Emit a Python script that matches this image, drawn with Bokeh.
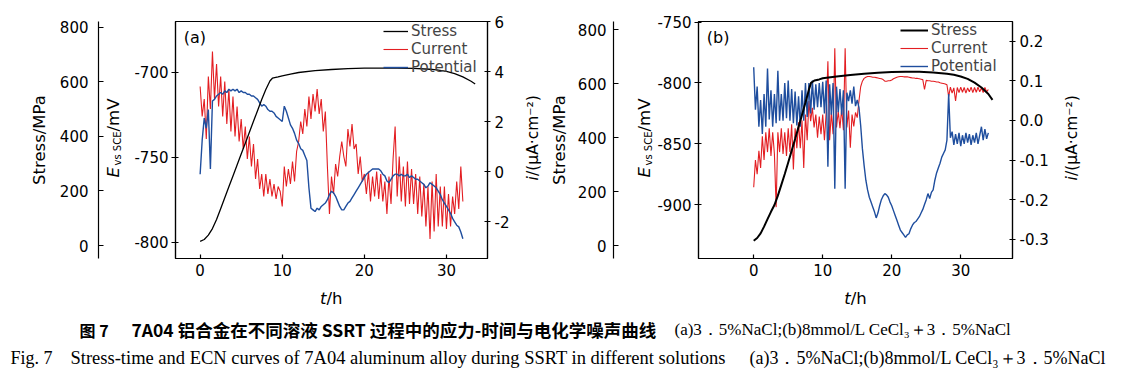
import numpy as np
from bokeh.plotting import figure
from bokeh.models import (Range1d, LinearAxis, FixedTicker, PrintfTickFormatter,
                          Label, Legend, LegendItem, GridBox)
from bokeh.embed import file_html
from bokeh.resources import INLINE

# ------------------------------------------------------------------ data
# panel (a): 3.5% NaCl
t_stress_a = [0, 0.5, 1, 1.5, 2, 2.5, 3, 3.5, 4, 4.5, 5, 5.5, 6, 6.5, 7, 7.5, 8, 8.5,
              8.8, 9.5, 10, 11, 12, 14, 16, 18, 20, 22, 24, 26, 28, 29, 30, 31, 32, 33, 33.5]
stress_a = [15, 22, 38, 62, 95, 135, 175, 215, 255, 295, 335, 375, 415, 455, 495, 535, 572, 603,
            613, 618, 622, 628, 634, 641, 645, 648, 650, 650, 650, 649, 646, 643, 638, 630, 618, 602, 592]
t_ecn_a = np.arange(0, 32.001, 0.25)
current_a = [3.4, 2.2, 2.9, 1.3, 3.8, 2.5, 4.8, 2.9,
             4.3, 2.6, 3.8, 2.2, 3.6, 1.9, 3.3, 1.6,
             3.0, 1.4, 2.6, 1.2, 2.1, 0.9, 1.8, 0.5,
             1.4, 0.2, 1.1, -0.3, 0.5, -0.7, -0.1, -1.0,
             -0.1, -0.9, -0.3, -1.0, -0.5, -1.1, -0.6, -0.8,
             -1.4, 0.2, -0.6, 0.1, -0.5, 0.4, -0.4, 0.8,
             1.2, 2.0, 1.5, 2.5, 1.8, 3.0, 2.1, 3.1,
             2.4, 3.3, 2.3, 2.9, 1.6, 2.4, 0.2, -1.7,
             -0.2, -0.9, 0.3, -0.2, 0.6, 1.2, 0.6, 0.2,
             1.7, 1.0, 1.9, 0.9, 1.1, -0.1, 0.6, -0.4,
             -0.1, -0.9, 0.0, -1.2, -0.2, -1.0, 0.0, -1.1,
             -0.1, -1.2, -0.4, -1.7, -0.2, -1.3, 0.5, 1.8,
             -1.0, 0.6, -1.2, 0.2, -1.4, 0.4, -1.3, 0.1,
             -1.3, -0.1, -1.7, -0.2, -1.8, -0.5, -2.2, -0.6,
             -2.7, -0.4, -2.4, -0.1, -2.2, -0.6, -2.2, -0.6,
             -2.3, -0.9, -2.2, -1.0, -1.7, -0.4, -1.5, 0.2,
             -1.2]
potential_a = [-760, -740, -727, -733, -722, -757, -717, -716,
               -714, -713, -712, -713, -711, -712, -710, -711,
               -710, -711, -710, -712, -711, -712, -712, -713,
               -713, -714, -714, -715, -716, -718, -720, -719,
               -720, -722, -723, -723, -724, -726, -727, -728,
               -729, -720, -723, -727, -731, -733, -736, -740,
               -742, -745, -746, -749, -752, -768, -780, -781,
               -782, -780, -781, -779, -778, -777, -775, -772,
               -770, -771, -773, -776, -779, -781, -781, -779,
               -777, -776, -774, -772, -770, -768, -766, -764,
               -762, -760, -759, -758, -757, -757, -757, -757,
               -758, -760, -761, -764, -765, -763, -761, -760,
               -760, -761, -760, -761, -761, -760, -762, -761,
               -762, -763, -763, -764, -765, -766, -768, -767,
               -765, -766, -767, -768, -770, -772, -775, -777,
               -779, -781, -783, -786, -788, -790, -791, -794,
               -798]

# panel (b): 8 mmol/L CeCl3 + 3.5% NaCl
t_stress_b = [0, 0.5, 1, 1.5, 2, 2.5, 3, 3.5, 4, 4.5, 5, 5.5, 6, 6.5, 7, 7.5, 8,
              8.3, 8.8, 9.5, 10, 12, 14, 16, 18, 20, 22, 24, 26, 28, 29, 30, 31, 32, 33, 34, 34.6]
stress_b = [18, 28, 45, 70, 98, 125, 150, 185, 225, 265, 308, 352, 395, 440, 485, 530, 578,
            603, 612, 616, 620, 627, 632, 637, 641, 643, 644, 644, 642, 637, 633, 627, 618, 604, 586, 562, 540]
t_ecn_b = np.arange(0, 34.001, 0.25)
current_b = [-0.169, -0.10, -0.136, -0.077, -0.12, -0.04, -0.10, -0.03,
             -0.08, -0.02, -0.09, -0.03, -0.085, -0.219, -0.03, -0.08,
             -0.02, -0.085, -0.03, -0.09, -0.02, -0.08, -0.01, -0.124,
             -0.02, -0.07, -0.005, -0.07, 0.0, -0.12, 0.015, -0.05,
             0.049, -0.002, 0.032, -0.018, 0.015, -0.044, 0.01, -0.035,
             0.015, -0.05, 0.02, 0.149, -0.05, 0.02, -0.035, 0.182,
             -0.018, 0.023, -0.02, 0.03, -0.025, 0.182, -0.018, 0.025,
             -0.069, 0.015, -0.015, 0.02, 0.007, 0.049, 0.085, 0.099,
             0.106, 0.109, 0.111, 0.111, 0.110, 0.109, 0.109, 0.108,
             0.107, 0.106, 0.105, 0.103, 0.099, 0.099, 0.100, 0.100,
             0.102, 0.105, 0.107, 0.109, 0.110, 0.111, 0.111, 0.110,
             0.110, 0.110, 0.109, 0.108, 0.107, 0.107, 0.106, 0.106,
             0.105, 0.104, 0.103, 0.078, 0.101, 0.100, 0.100, 0.099,
             0.099, 0.098, 0.097, 0.097, 0.095, 0.094, 0.093, 0.092,
             0.090, 0.060, 0.084, 0.069, 0.082, 0.049, 0.083, 0.070,
             0.084, 0.071, 0.083, 0.069, 0.082, 0.072, 0.084, 0.070,
             0.083, 0.071, 0.084, 0.072, 0.082, 0.070, 0.083, 0.072,
             0.078]
potential_b = [-787, -822, -803, -836, -814, -842, -809, -836,
               -788, -830, -806, -836, -809, -833, -790, -831,
               -809, -831, -800, -829, -798, -831, -805, -833,
               -807, -835, -811, -836, -806, -831, -800, -828,
               -800, -825, -798, -822, -801, -820, -800, -820,
               -799, -825, -798, -869, -801, -826, -800, -887,
               -803, -824, -805, -826, -806, -887, -808, -815,
               -806, -817, -803, -819, -814, -820, -835, -854,
               -868, -880, -888, -894, -898, -902, -906, -911,
               -907, -901, -896, -893, -891, -892, -894, -898,
               -901, -905, -909, -913, -917, -921, -923, -925,
               -927, -925, -924, -920, -917, -915, -914, -912,
               -910, -907, -904, -900, -896, -891, -895, -890,
               -888, -880, -874, -870, -866, -861, -858, -855,
               -847, -809, -845, -840, -851, -842, -850, -841,
               -852, -843, -850, -841, -849, -842, -851, -843,
               -849, -841, -850, -843, -836, -847, -838, -846,
               -841]

x_ticks = [0, 10, 20, 30]
stress_ticks = [0, 200, 400, 600, 800]
e_ticks_a = [-800, -750, -700]
i_ticks_a = [-2, 0, 2, 4, 6]
e_ticks_b = [-900, -850, -800, -750]
i_ticks_b = [-0.3, -0.2, -0.1, 0.0, 0.1, 0.2]
series_names = ["Stress", "Current", "Potential"]

cap1_fig = "图 7"
cap1_main = "7A04 铝合金在不同溶液 SSRT 过程中的应力-时间与电化学噪声曲线"
cap2_fig = "Fig. 7"
cap2_main = "Stress-time and ECN curves of 7A04 aluminum alloy during SSRT in different solutions"
cap_sol = "(a)3．5%NaCl;(b)8mmol/L CeCl₃＋3．5%NaCl"

# ------------------------------------------------------------------ style
SANS = "DejaVu Sans"
SERIF = "Liberation Serif"
CJK = "Noto Sans CJK SC"
RED = "#e31e22"
BLUE = "#1f4e9e"
TICK_FS = "15px"
TITLE_FS = "16.5px"
W_TOTAL, H_TOTAL, H_PANEL = 1120, 380, 308


def style_axis(ax, tick_in, tick_out, standoff):
    ax.axis_line_color = "black"
    ax.axis_line_width = 1.2
    ax.major_tick_line_color = "black"
    ax.major_tick_line_width = 1.2
    ax.major_tick_in = tick_in
    ax.major_tick_out = tick_out
    ax.minor_tick_line_color = None
    ax.major_label_standoff = standoff
    ax.major_label_text_font = SANS
    ax.major_label_text_font_size = TICK_FS
    ax.major_label_text_color = "black"


def add_text(p, text, x, y, angle=0.0, size=TITLE_FS, style="normal", align="left",
             baseline="alphabetic", font=SANS):
    p.add_layout(Label(x=x, y=y, x_units="screen", y_units="screen", text=text, angle=angle,
                       text_font=font, text_font_size=size, text_font_style=style,
                       text_align=align, text_baseline=baseline, text_color="black"))


def panel(width, mb_left, mb_right, xr, er, ir, sr, e_ticks, i_ticks, i_fmt,
          e_gap, s_standoff, s_title_standoff, t_s, s_vals, t_e, cur, pot, stress_w,
          leg_loc, glyph_w, tag):
    p = figure(width=width, height=H_PANEL, x_range=Range1d(*xr), y_range=Range1d(*er),
               toolbar_location=None, output_backend="svg",
               min_border_left=mb_left, min_border_right=mb_right,
               min_border_top=21, min_border_bottom=50)
    p.extra_y_ranges = {"i": Range1d(*ir), "stress": Range1d(*sr)}
    p.xgrid.grid_line_color = None
    p.ygrid.grid_line_color = None
    p.outline_line_color = "black"
    p.outline_line_width = 1.2
    p.outline_line_alpha = 1.0
    p.background_fill_color = "white"
    p.border_fill_color = "white"

    xa = p.xaxis[0]
    xa.ticker = FixedTicker(ticks=x_ticks)
    style_axis(xa, 4, 0, 5)

    ea = p.yaxis[0]
    ea.ticker = FixedTicker(ticks=e_ticks)
    ea.formatter = PrintfTickFormatter(format="%d")
    style_axis(ea, 3, 4, 3)
    ea.axis_label = " "
    ea.axis_label_text_font_size = "1px"
    ea.axis_label_standoff = e_gap

    sa = LinearAxis(y_range_name="stress", ticker=FixedTicker(ticks=stress_ticks),
                    axis_label="Stress/MPa")
    style_axis(sa, 5, 0, s_standoff)
    sa.axis_label_text_font = SANS
    sa.axis_label_text_font_size = TITLE_FS
    sa.axis_label_text_font_style = "normal"
    sa.axis_label_text_color = "black"
    sa.axis_label_standoff = s_title_standoff
    p.add_layout(sa, "left")

    ia = LinearAxis(y_range_name="i", ticker=FixedTicker(ticks=i_ticks),
                    formatter=PrintfTickFormatter(format=i_fmt))
    style_axis(ia, 3, 3, 4)
    p.add_layout(ia, "right")

    r_cur = p.line(t_e, cur, y_range_name="i", line_color=RED, line_width=1.1)
    r_pot = p.line(t_e, pot, line_color=BLUE, line_width=1.4)
    r_s = p.line(t_s, s_vals, y_range_name="stress", line_color="black", line_width=stress_w)

    leg = Legend(items=[LegendItem(label=series_names[0], renderers=[r_s]),
                        LegendItem(label=series_names[1], renderers=[r_cur]),
                        LegendItem(label=series_names[2], renderers=[r_pot])],
                 location=leg_loc, padding=0, margin=0, spacing=0,
                 glyph_width=glyph_w, glyph_height=12, label_height=12, label_standoff=3,
                 label_text_font=SANS, label_text_font_size="15px",
                 border_line_alpha=0, background_fill_alpha=0)
    p.add_layout(leg)
    add_text(p, tag, 8.3, 221, size="16px", baseline="middle")
    p.align = "start"
    p.frame_align = False
    return p


pa = panel(545, 175, 58, (-3, 35), (-809.6, -670.2), (-3.48, 6.0), (-47.6, 820.9),
           e_ticks_a, i_ticks_a, "%d", 29, 10, 8, t_stress_a, stress_a, t_ecn_a,
           current_a, potential_a, 1.3, (208, 182), 25, "(a)")
pb = panel(575, 153, 108, (-8, 37.5), (-944.4, -749.4), (-0.3487, 0.2497), (-48.1, 830.7),
           e_ticks_b, i_ticks_b, "%.1f", 37, 7, 6, t_stress_b, stress_b, t_ecn_b,
           current_b, potential_b, 2.0, (202, 183), 28, "(b)")

# transparent overlay carrying the composite axis titles and the caption
ov = figure(width=W_TOTAL, height=H_TOTAL, x_range=Range1d(0, 1), y_range=Range1d(0, 1),
            toolbar_location=None, output_backend="svg", x_axis_type=None, y_axis_type=None,
            min_border=0)
ov.outline_line_color = None
ov.background_fill_color = None
ov.border_fill_color = None
ov.xgrid.grid_line_color = None
ov.ygrid.grid_line_color = None
ov.align = "start"
ov.frame_align = False


def txt(text, x, y, **kw):
    # x, y in page pixels measured from the top-left corner
    add_text(ov, text, x, H_TOTAL - y, **kw)


ROT = np.pi / 2
for ex, ix, cx in ((113.3, 532.5, 330.7), (644.0, 1071.0, 855.0)):
    txt("E", ex, 177, angle=ROT, style="italic")
    txt("vs SCE", ex + 3.7, 165, angle=ROT, size="10px")
    txt("/mV", ex, 131, angle=ROT)
    txt("i", ix, 180, angle=ROT, style="italic", size="15.5px")
    txt("/(μA·cm⁻²)", ix, 175.5, angle=ROT, size="15.5px")
    txt("t", cx - 11.3, 298, style="italic")
    txt("/h", cx - 4.8, 298)

txt(cap1_fig, 79, 329, size="16px", style="bold", baseline="middle", font=CJK)
txt(cap1_main, 131, 329, size="17.5px", style="bold", baseline="middle", font=CJK)
txt(cap_sol, 674, 329, size="17px", baseline="middle", font=SERIF)
txt(cap2_fig, 10, 357, size="18px", baseline="middle", font=SERIF)
txt(cap2_main, 70, 357, size="18.5px", baseline="middle", font=SERIF)
txt(cap_sol, 749, 357, size="18px", baseline="middle", font=SERIF)

layout = GridBox(children=[(pa, 0, 0), (pb, 0, 1), (ov, 0, 0, 1, 2)])
open("out.html", "w").write(file_html(layout, INLINE))
